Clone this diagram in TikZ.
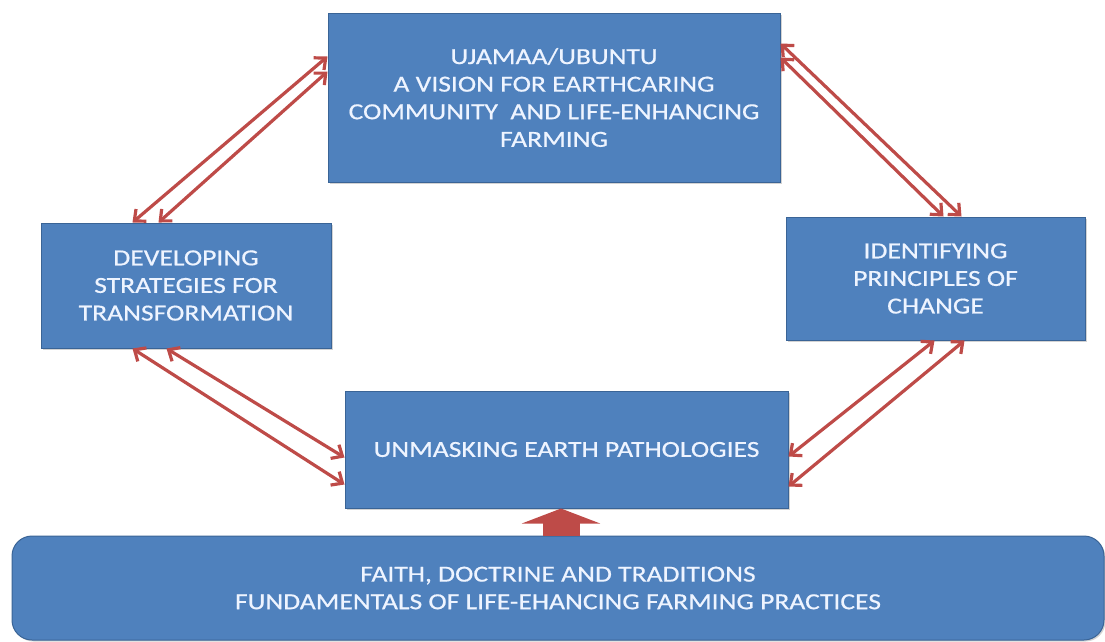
\documentclass[tikz,border=0pt]{standalone}
\usepackage{fontspec}
\newfontfamily\boxfont[FakeStretch=1.2,FakeBold=0.6]{Carlito}
\usetikzlibrary{arrows.meta,shadows,calc}
\definecolor{boxblue}{HTML}{4F81BD}
\definecolor{boxedge}{HTML}{3A6496}
\definecolor{arrred}{HTML}{BE4B48}
\definecolor{txt}{HTML}{EEF4FF}
\begin{document}
\begin{tikzpicture}[x=1pt,y=1pt,
  box/.style={draw=boxedge, line width=1pt, fill=boxblue, text=txt,
    font=\boxfont\fontsize{23}{27.6}\selectfont, align=center, inner sep=0pt,
    drop shadow={shadow xshift=1.5pt, shadow yshift=-1.5pt, opacity=0.35}},
  link/.style={draw=arrred, line width=3.2pt,
    {Straight Barb[length=9pt,width=16pt]}-{Straight Barb[length=9pt,width=16pt]}},
  bigarrow/.style={draw=arrred, line width=37pt, -{Triangle[length=15pt,width=78pt]}}
]
\useasboundingbox (0,0) rectangle (1105,-641);
\node[box, minimum width=452pt, minimum height=169pt] (top) at (554,-97.5)
  {UJAMAA/UBUNTU\\A VISION FOR EARTHCARING\\COMMUNITY\ \ AND LIFE-ENHANCING\\FARMING};
\node[box, minimum width=290pt, minimum height=125pt] (left) at (186,-285.5)
  {DEVELOPING\\STRATEGIES FOR\\TRANSFORMATION};
\node[box, minimum width=299pt, minimum height=123pt] (right) at (935.5,-278.5)
  {IDENTIFYING\\PRINCIPLES OF\\CHANGE};
\node[box, minimum width=443pt, minimum height=117pt] (mid) at (566.5,-449.5)
  {\raisebox{-3pt}{UNMASKING EARTH PATHOLOGIES}};
\node[box, rounded corners=20pt, minimum width=1092pt, minimum height=104pt] (bot) at (558,-588)
  {FAITH, DOCTRINE AND TRADITIONS\\FUNDAMENTALS OF LIFE-EHANCING FARMING PRACTICES};
% double links
\draw[link] ([yshift=-44pt]top.north west) -- ([xshift=92pt]left.north west);
\draw[link] ([yshift=-59pt]top.north west) -- ([xshift=118pt]left.north west);
\draw[link] ([yshift=-31pt]top.north east) -- ([xshift=176pt]right.north west);
\draw[link] ([yshift=-45pt]top.north east) -- ([xshift=158pt]right.north west);
\draw[link] ([xshift=126pt]left.south west) -- ([yshift=-67pt]mid.north west);
\draw[link] ([xshift=92pt]left.south west) -- ([yshift=-94pt]mid.north west);
\draw[link] ([xshift=149pt]right.south west) -- ([yshift=-66pt]mid.north east);
\draw[link] ([xshift=179pt]right.south west) -- ([yshift=-96pt]mid.north east);
% big arrow
\coordinate (ax) at (561,0);
\draw[bigarrow] (bot.north -| ax) -- (mid.south -| ax);
\end{tikzpicture}
\end{document}
